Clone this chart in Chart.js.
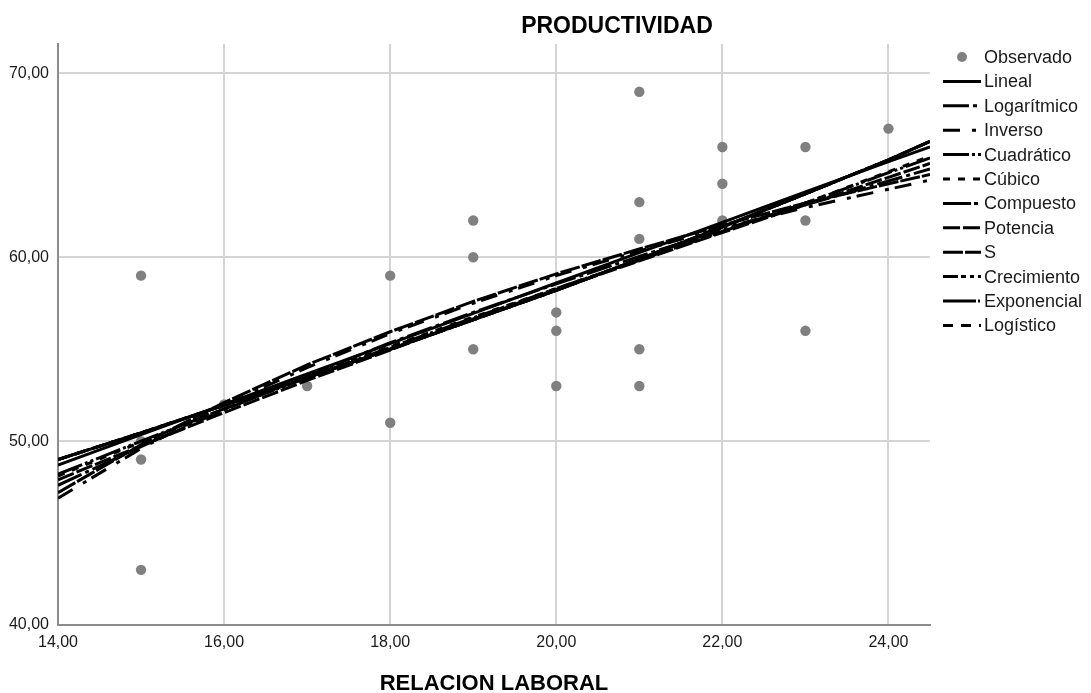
<!DOCTYPE html>
<html><head><meta charset="utf-8">
<script src="https://cdn.jsdelivr.net/npm/chart.js@4.4.1/dist/chart.umd.min.js"></script>
<style>html,body{margin:0;padding:0;background:#fff;}#wrap{width:1091px;height:693px;position:relative;}</style>
</head><body><div id="wrap"><canvas id="c" width="1091" height="693"></canvas></div>
<script>
const chartTitle = 'PRODUCTIVIDAD';
const xAxisTitle = 'RELACION LABORAL';
const xTicks = [14, 16, 18, 20, 22, 24];
const yTicks = [40, 50, 60, 70];

// Observed points (RELACION LABORAL, PRODUCTIVIDAD)
const obsX = [15, 15, 15, 15, 16, 17, 18, 18, 19, 19, 19, 20, 20, 20, 21, 21, 21, 21, 21, 22, 22, 22, 23, 23, 23, 24];
const obsY = [59, 50, 49, 43, 52, 53, 59, 51, 62, 60, 55, 57, 56, 53, 69, 63, 61, 55, 53, 66, 64, 62, 66, 62, 56, 67];

// Fitted curves, read at these x positions
const fitX = [14, 15, 16, 17, 18, 19, 20, 21, 22, 23, 24, 24.5];
const lineal      = [48.7, 50.35, 52.0, 53.65, 55.3, 56.95, 58.6, 60.25, 61.9, 63.55, 65.2, 66.0];
const logaritmico = [47.6, 49.7, 51.7, 53.55, 55.35, 57.0, 58.55, 60.05, 61.5, 62.85, 64.15, 64.8];
const inverso     = [46.9, 49.6, 51.95, 54.0, 55.85, 57.5, 59.0, 60.35, 61.6, 62.7, 63.7, 64.2];
const cuadratico  = [48.2, 50.0, 51.75, 53.45, 55.1, 56.7, 58.3, 59.85, 61.4, 62.95, 64.6, 65.4];
const cubico      = [48.1, 49.95, 51.75, 53.5, 55.15, 56.75, 58.3, 59.85, 61.4, 62.95, 64.65, 65.5];
const compuesto   = [49.0, 50.45, 51.95, 53.45, 55.0, 56.6, 58.2, 59.9, 61.65, 63.45, 65.3, 66.3];
const potencia    = [47.9, 49.75, 51.55, 53.3, 54.95, 56.65, 58.25, 59.8, 61.35, 62.85, 64.35, 65.1];
const sCurve      = [47.2, 49.8, 52.1, 54.15, 55.95, 57.6, 59.1, 60.45, 61.75, 62.95, 64.0, 64.5];
const crecimiento = [49.0, 50.45, 51.95, 53.45, 55.0, 56.6, 58.2, 59.9, 61.65, 63.45, 65.3, 66.3];
const exponencial = [49.0, 50.45, 51.95, 53.45, 55.0, 56.6, 58.2, 59.9, 61.65, 63.45, 65.3, 66.3];
const logistico   = [49.0, 50.45, 51.95, 53.45, 55.0, 56.6, 58.2, 59.9, 61.65, 63.45, 65.3, 66.3];

const fitNames = ['Lineal','Logarítmico','Inverso','Cuadrático','Cúbico','Compuesto','Potencia','S','Crecimiento','Exponencial','Logístico'];
const fitSeries = [lineal, logaritmico, inverso, cuadratico, cubico, compuesto, potencia, sCurve, crecimiento, exponencial, logistico];
const fitDashes = [[], [26,4,4,4], [17,12,4,6], [26,3,3,3,3,3], [7,8], [28,3,4,3], [17,3], [20,2], [15,3,5,4,4,4], [33,2,2,2], [10,8]];

const toPts = (xs, ys) => xs.map((x, i) => ({x: x, y: ys[i]}));
const fmt = v => Number(v).toFixed(2).replace('.', ',');
const FONT = 'Arial, "Liberation Sans", Helvetica, sans-serif';

const datasets = [{
  label: 'Observado',
  data: toPts(obsX, obsY),
  backgroundColor: '#808080',
  borderWidth: 0,
  pointRadius: 5.2,
  pointHoverRadius: 5.2,
  showLine: false,
  order: 2
}];
fitNames.forEach((name, i) => {
  datasets.push({
    label: name,
    data: toPts(fitX, fitSeries[i]),
    showLine: true,
    borderColor: '#000',
    borderWidth: 3,
    borderDash: fitDashes[i],
    pointRadius: 0,
    pointHoverRadius: 0,
    fill: false,
    tension: 0,
    order: 1
  });
});

const textPlugin = {
  id: 'textPlugin',
  afterDraw(chart) {
    const ctx = chart.ctx;
    const ca = chart.chartArea;
    ctx.save();
    ctx.fillStyle = '#000';
    ctx.textAlign = 'center';
    ctx.textBaseline = 'middle';
    ctx.font = 'bold 23px ' + FONT;
    ctx.fillText(chartTitle, 617, 27);
    ctx.font = 'bold 22px ' + FONT;
    ctx.fillText(xAxisTitle, (ca.left + ca.right) / 2, 684);
    // legend
    const x0 = ca.right + 13, x1 = ca.right + 51, tx = ca.right + 54;
    ctx.font = '18px ' + FONT;
    ctx.textAlign = 'left';
    chart.data.datasets.forEach((ds, i) => {
      const y = 57 + i * 24.4;
      if (!ds.showLine) {
        ctx.fillStyle = ds.backgroundColor;
        ctx.beginPath();
        ctx.arc((x0 + x1) / 2, y, 5, 0, Math.PI * 2);
        ctx.fill();
      } else {
        ctx.strokeStyle = ds.borderColor;
        ctx.lineWidth = ds.borderWidth;
        ctx.setLineDash(ds.borderDash);
        ctx.beginPath();
        ctx.moveTo(x0, y);
        ctx.lineTo(x1, y);
        ctx.stroke();
        ctx.setLineDash([]);
      }
      ctx.fillStyle = '#1a1a1a';
      ctx.fillText(ds.label, tx, y + 1);
    });
    ctx.restore();
  }
};

new Chart(document.getElementById('c'), {
  type: 'scatter',
  data: { datasets: datasets },
  plugins: [textPlugin],
  options: {
    responsive: false,
    animation: false,
    events: [],
    layout: { padding: { top: 44, right: 161, left: 0, bottom: 0 } },
    plugins: { legend: { display: false }, title: { display: false }, tooltip: { enabled: false } },
    scales: {
      x: {
        type: 'linear', min: 14, max: 24.5,
        afterBuildTicks: s => { s.ticks = xTicks.map(v => ({ value: v })); },
        afterFit: s => { s.height = 68; },
        grid: { color: '#d4d4d4', lineWidth: 2, drawTicks: false },
        border: { color: '#8c8c8c', width: 2 },
        ticks: { font: { family: FONT, size: 16 }, color: '#1a1a1a', padding: 8, maxRotation: 0, autoSkip: false, callback: v => fmt(v) }
      },
      y: {
        type: 'linear', min: 40, max: 71.6,
        afterBuildTicks: s => { s.ticks = yTicks.map(v => ({ value: v })); },
        afterFit: s => { s.width = 58; },
        grid: { color: '#d4d4d4', lineWidth: 2, drawTicks: false },
        border: { color: '#8c8c8c', width: 2 },
        ticks: { font: { family: FONT, size: 16 }, color: '#1a1a1a', padding: 9, autoSkip: false, callback: v => fmt(v) }
      }
    }
  }
});
</script></body></html>
